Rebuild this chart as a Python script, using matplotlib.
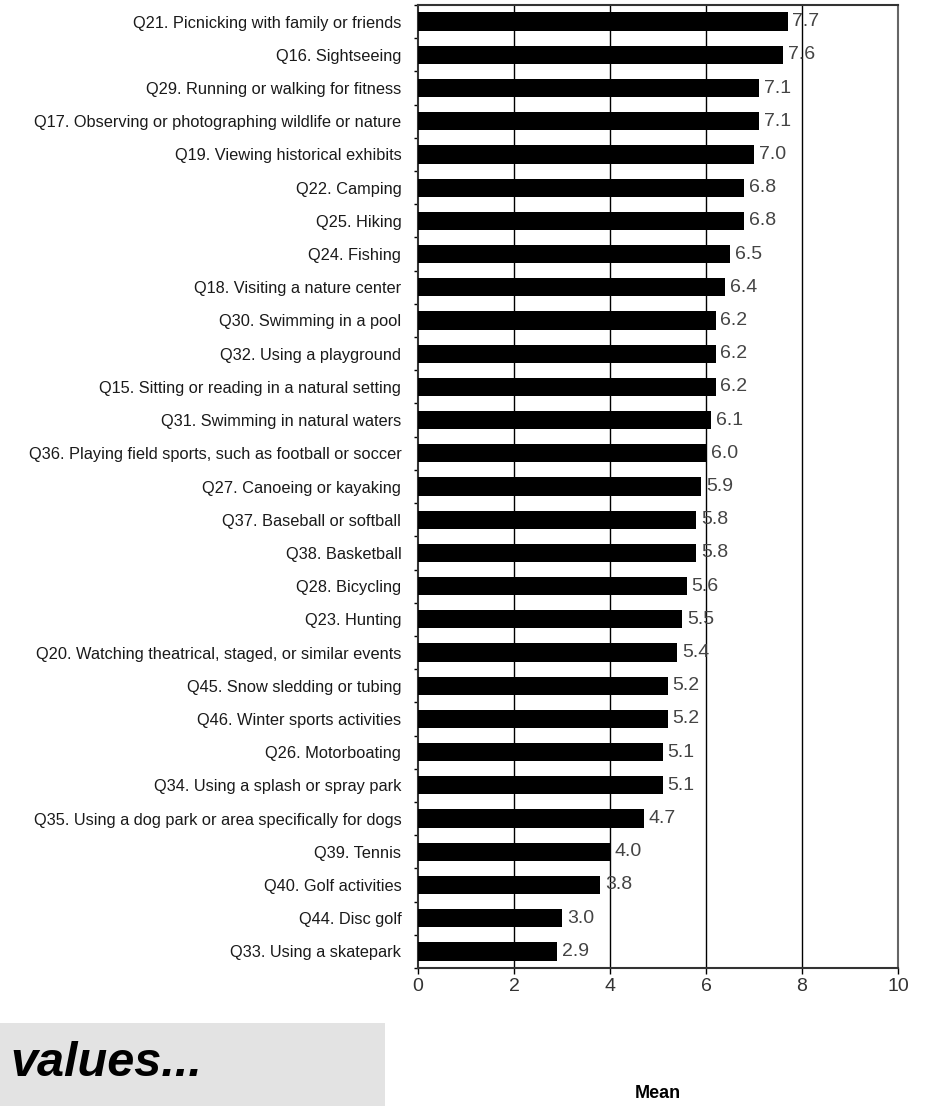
import matplotlib.pyplot as plt
import numpy as np

labels = [
    "Q21. Picnicking with family or friends",
    "Q16. Sightseeing",
    "Q29. Running or walking for fitness",
    "Q17. Observing or photographing wildlife or nature",
    "Q19. Viewing historical exhibits",
    "Q22. Camping",
    "Q25. Hiking",
    "Q24. Fishing",
    "Q18. Visiting a nature center",
    "Q30. Swimming in a pool",
    "Q32. Using a playground",
    "Q15. Sitting or reading in a natural setting",
    "Q31. Swimming in natural waters",
    "Q36. Playing field sports, such as football or soccer",
    "Q27. Canoeing or kayaking",
    "Q37. Baseball or softball",
    "Q38. Basketball",
    "Q28. Bicycling",
    "Q23. Hunting",
    "Q20. Watching theatrical, staged, or similar events",
    "Q45. Snow sledding or tubing",
    "Q46. Winter sports activities",
    "Q26. Motorboating",
    "Q34. Using a splash or spray park",
    "Q35. Using a dog park or area specifically for dogs",
    "Q39. Tennis",
    "Q40. Golf activities",
    "Q44. Disc golf",
    "Q33. Using a skatepark",
]
means = [7.7, 7.6, 7.1, 7.1, 7.0, 6.8, 6.8, 6.5, 6.4, 6.2, 6.2, 6.2, 6.1, 6.0,
         5.9, 5.8, 5.8, 5.6, 5.5, 5.4, 5.2, 5.2, 5.1, 5.1, 4.7, 4.0, 3.8, 3.0, 2.9]
xticks = [0, 2, 4, 6, 8, 10]

font = "Liberation Sans"

fig = plt.figure(figsize=(9.28, 11.06), dpi=100)
ax = fig.add_axes([418/928, 1 - 968/1106, (898-418)/928, (968-5)/1106])

y = np.arange(len(labels))
ax.barh(y, means, height=0.55, color="black", zorder=3)
for yi, v in zip(y, means):
    ax.text(v + 0.1, yi, f"{v:.1f}", va="center", ha="left", fontsize=14,
            color="#444444", family=font, zorder=4)

ax.set_xlim(0, 10)
ax.set_ylim(len(labels) - 0.5, -0.5)
ax.set_xticks(xticks)
ax.set_xticklabels([str(t) for t in xticks], fontsize=14, family=font,
                   color="#333333")
ax.set_yticks(y)
ax.set_yticklabels(labels, fontsize=11.8, family=font, color="#1a1a1a")
ax.set_yticks(np.arange(len(labels) + 1) - 0.5, minor=True)
ax.tick_params(axis="y", which="major", length=0, pad=12)
ax.tick_params(axis="y", which="minor", length=3, width=1, direction="out")
ax.tick_params(axis="x", length=4, width=1, direction="out", pad=3)

for g in [2, 4, 6, 8]:
    ax.axvline(g, color="black", lw=1, zorder=1)

for s in ax.spines.values():
    s.set_linewidth(1.5)
    s.set_color("#333333")
ax.spines["right"].set_color("#666666")

# axis title sits well below the ticks
fig.text((418 + 898) / 2 / 928, 1 - 1094/1106, "Mean", fontsize=13, fontweight="bold",
         family=font, ha="center", va="center")

# gray box with caption in the lower left
fig.patches.append(plt.Rectangle((0, 0), 385/928, (1106-1023)/1106, transform=fig.transFigure,
                                 facecolor="#e3e3e3", edgecolor="none"))
fig.text(10/928, 1 - 1064/1106, "values...", fontsize=35, fontweight="bold",
         fontstyle="italic", va="center", ha="left", family=font)

fig.savefig("out.png", dpi=100)
